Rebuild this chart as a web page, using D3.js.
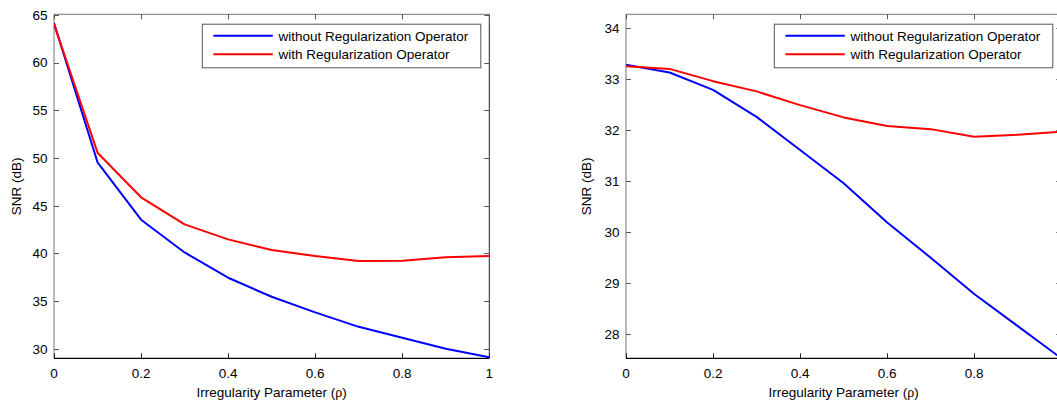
<!DOCTYPE html>
<html>
<head>
<meta charset="utf-8">
<script src="https://cdn.jsdelivr.net/npm/d3@7"></script>
<style>
html,body{margin:0;padding:0;background:#fff;}
svg{display:block;}
text{font-family:"Liberation Sans",Arial,sans-serif;fill:#000;}
</style>
</head>
<body>
<svg id="chart" width="1057" height="401"></svg>
<script>
// ---- data ----
const rho = [0, 0.1, 0.2, 0.3, 0.4, 0.5, 0.6, 0.7, 0.8, 0.9, 1.0];
const xTicks = [0, 0.2, 0.4, 0.6, 0.8, 1];
const xTickLabels = ["0", "0.2", "0.4", "0.6", "0.8", "1"];

const leftWithout = [64.15, 49.55, 43.53, 40.1, 37.45, 35.45, 33.82, 32.3, 31.15, 30.0, 29.1];
const leftWith    = [64.05, 50.56, 45.88, 43.04, 41.47, 40.35, 39.72, 39.2, 39.22, 39.6, 39.72];
const leftYTicks  = [30, 35, 40, 45, 50, 55, 60, 65];

const rightWithout = [33.28, 33.13, 32.79, 32.26, 31.61, 30.96, 30.19, 29.5, 28.79, 28.16, 27.53];
const rightWith    = [33.25, 33.2, 32.96, 32.76, 32.49, 32.25, 32.08, 32.02, 31.87, 31.91, 31.97];
const rightYTicks  = [28, 29, 30, 31, 32, 33, 34];

const seriesNames = ["without Regularization Operator", "with Regularization Operator"];
const seriesColors = ["#0000ff", "#ff0000"];

const W = 1057;
const svg = d3.select("#chart");

function panel(opt) {
  const x = d3.scaleLinear().domain([0, 1]).range([opt.x0, opt.x1]);
  const y = d3.scaleLinear().domain(opt.yDomain).range([opt.y1, opt.y0]);
  const g = svg.append("g");
  const T = 5;
  const fs = "13.5px";

  // box lines
  g.append("line").attr("x1", opt.x0).attr("x2", opt.x1).attr("y1", opt.y0).attr("y2", opt.y0)
    .attr("stroke", "#777").attr("stroke-width", 1);
  g.append("line").attr("x1", opt.x0).attr("x2", opt.x0).attr("y1", opt.y0).attr("y2", opt.y1)
    .attr("stroke", "#777").attr("stroke-width", 1);
  g.append("line").attr("x1", opt.x1).attr("x2", opt.x1).attr("y1", opt.y0).attr("y2", opt.y1)
    .attr("stroke", "#222").attr("stroke-width", 1);

  // x ticks (bottom and top), inward
  xTicks.forEach((t, i) => {
    const px = Math.round(x(t)) + 0.5;
    g.append("line").attr("x1", px).attr("x2", px).attr("y1", opt.y1).attr("y2", opt.y1 - T)
      .attr("stroke", "#222");
    g.append("line").attr("x1", px).attr("x2", px).attr("y1", opt.y0).attr("y2", opt.y0 + T)
      .attr("stroke", "#555");
    if (x(t) < W - 2) {
      g.append("text").attr("x", x(t)).attr("y", 377.5).attr("text-anchor", "middle")
        .style("font-size", fs).text(xTickLabels[i]);
    }
  });

  // y ticks (left and right), inward
  opt.yTicks.forEach(t => {
    const py = Math.round(y(t)) + 0.5;
    g.append("line").attr("x1", opt.x0).attr("x2", opt.x0 + T).attr("y1", py).attr("y2", py)
      .attr("stroke", "#555");
    g.append("line").attr("x1", opt.x1).attr("x2", opt.x1 - T).attr("y1", py).attr("y2", py)
      .attr("stroke", "#555");
    g.append("text").attr("x", opt.x0 - 6.5).attr("y", y(t) + 4.8).attr("text-anchor", "end")
      .style("font-size", fs).text(String(t));
  });

  // bottom axis line
  g.append("line").attr("x1", opt.x0).attr("x2", opt.x1).attr("y1", opt.y1).attr("y2", opt.y1)
    .attr("stroke", "#000").attr("stroke-width", 1.2);

  // series
  const line = d3.line().x((d, i) => x(rho[i])).y(d => y(d));
  const clipId = "clip" + opt.id;
  svg.append("clipPath").attr("id", clipId).append("rect")
    .attr("x", opt.x0).attr("y", opt.y0 - 2).attr("width", opt.x1 - opt.x0 + 2).attr("height", opt.y1 - opt.y0 + 2);
  opt.series.forEach((s, k) => {
    g.append("path").datum(s).attr("d", line).attr("fill", "none")
      .attr("stroke", seriesColors[k]).attr("stroke-width", 2)
      .attr("stroke-linejoin", "round").attr("clip-path", "url(#" + clipId + ")");
  });

  // axis titles
  const xt = g.append("text").attr("x", (opt.x0 + opt.x1) / 2).attr("y", 397)
    .attr("text-anchor", "middle").style("font-size", fs);
  xt.append("tspan").text("Irregularity Parameter (");
  xt.append("tspan").style("font-family", "'Liberation Serif','DejaVu Serif',serif").style("font-size", "14px").text("ρ");
  xt.append("tspan").text(")");

  g.append("text").attr("transform", `translate(${opt.yTitleX},${(opt.y0 + opt.y1) / 2}) rotate(-90)`)
    .attr("text-anchor", "middle").style("font-size", fs).text("SNR (dB)");

  // legend
  const lx1 = opt.x1 - 9, lx0 = lx1 - 278.5, ly0 = opt.y0 + 9.4, ly1 = ly0 + 43.6;
  const lg = g.append("g");
  lg.append("rect").attr("x", lx0 + 0.5).attr("y", ly0 + 0.5).attr("width", lx1 - lx0).attr("height", ly1 - ly0)
    .attr("fill", "#fff").attr("stroke", "#555").attr("stroke-width", 1);
  seriesNames.forEach((name, k) => {
    const cy = ly0 + 12 + k * 18.6;
    lg.append("line").attr("x1", lx0 + 11.6).attr("x2", lx0 + 71).attr("y1", cy).attr("y2", cy)
      .attr("stroke", seriesColors[k]).attr("stroke-width", 2);
    lg.append("text").attr("x", lx0 + 76.6).attr("y", cy + 4.8).style("font-size", fs).text(name);
  });
}

panel({id: "L", x0: 54, x1: 489.3, y0: 14.3, y1: 358.3, yDomain: [29, 65.07], yTicks: leftYTicks,
       series: [leftWithout, leftWith], yTitleX: 20.5});
panel({id: "R", x0: 626, x1: 1061.3, y0: 14.3, y1: 358.3, yDomain: [27.53, 34.27], yTicks: rightYTicks,
       series: [rightWithout, rightWith], yTitleX: 591});
</script>
</body>
</html>
